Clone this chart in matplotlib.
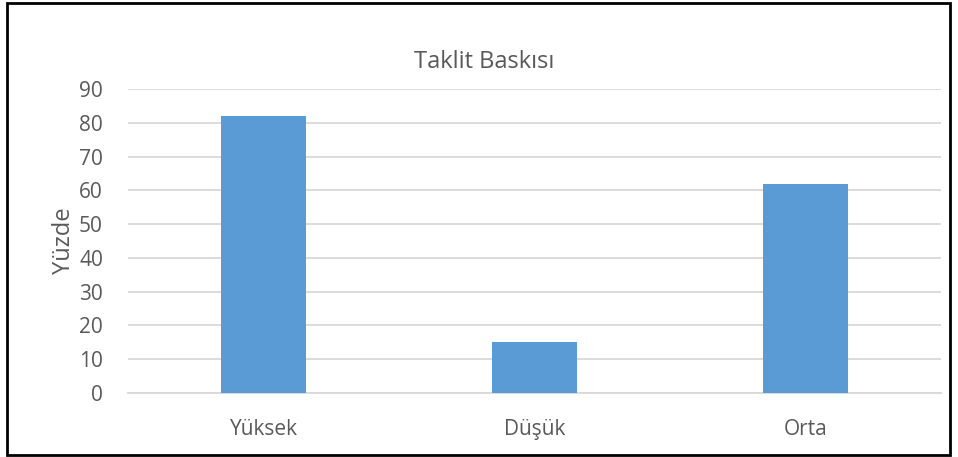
import matplotlib.pyplot as plt
from matplotlib.patches import Rectangle
import numpy as np

kategoriler = ['Yüksek', 'Düşük', 'Orta']
yuzdeler = [82, 15, 62]
y_ticks = [0, 10, 20, 30, 40, 50, 60, 70, 80, 90]

W, H = 958, 457
fig = plt.figure(figsize=(W / 100, H / 100), dpi=100)
ax = fig.add_axes([128 / W, 1 - 393 / H, (941 - 128) / W, (393 - 89) / H])

x = np.arange(len(kategoriler))
ax.bar(x, yuzdeler, width=85 / 271, color='#5B9BD5', zorder=3)

ax.set_xlim(-0.5, len(kategoriler) - 0.5)
ax.set_ylim(0, 90)
ax.set_yticks(y_ticks)
ax.set_xticks(x)
ax.set_xticklabels(kategoriler)

# gridlines like Excel
ax.grid(axis='y', color='#D9D9D9', linewidth=1.3, zorder=0)
for s in ['top', 'right', 'left']:
    ax.spines[s].set_visible(False)
ax.spines['bottom'].set_color('#D9D9D9')
ax.spines['bottom'].set_linewidth(1.3)

ax.tick_params(axis='both', length=0, labelsize=15, labelcolor='#595959')
ax.tick_params(axis='y', pad=18)
ax.tick_params(axis='x', pad=19)
for lbl in ax.get_xticklabels() + ax.get_yticklabels():
    lbl.set_fontfamily('Open Sans')

ax.set_ylabel('Yüzde', fontsize=17, color='#595959', family='Open Sans', labelpad=2)
fig.text(484 / W, 1 - 62 / H, 'Taklit Baskısı', ha='center', va='center',
         fontsize=17, color='#595959', family='Open Sans')

# chart border
fig.patches.append(Rectangle((7 / W, 1 - 455 / H), (950 - 7) / W, (455 - 3) / H,
                             transform=fig.transFigure, fill=False,
                             edgecolor='black', linewidth=2))

fig.savefig('out.png', dpi=100)
